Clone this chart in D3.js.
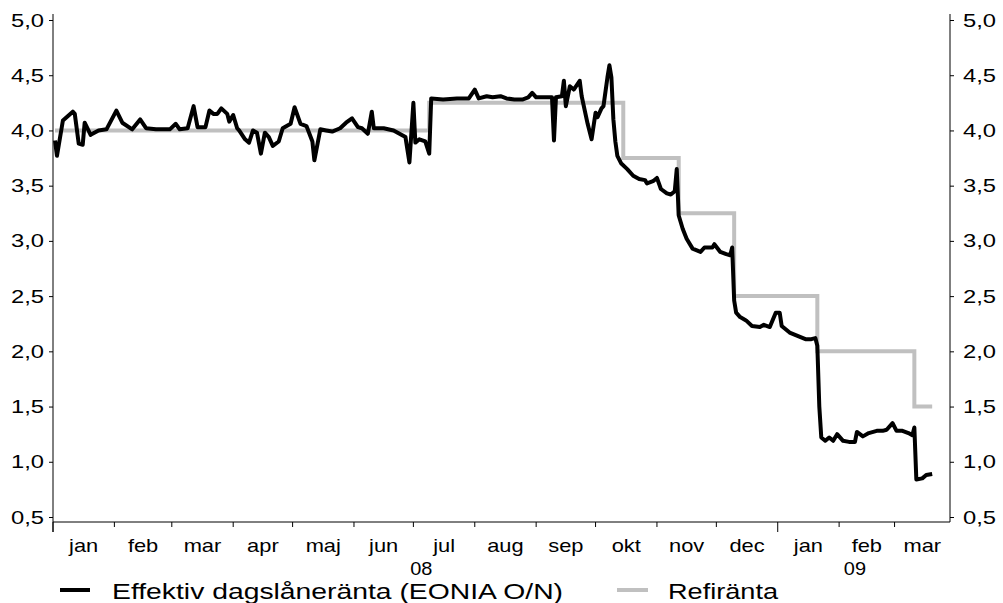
<!DOCTYPE html>
<html>
<head>
<meta charset="utf-8">
<script src="https://cdn.jsdelivr.net/npm/d3@7/dist/d3.min.js"></script>
<style>
  body { margin: 0; background: #fff; }
  text { font-family: "Liberation Sans", Arial, sans-serif; fill: #000; }
</style>
</head>
<body>
<svg id="chart" width="1003" height="603"></svg>
<script>
// EONIA overnight rate (effektiv dagslåneränta)
const eoniaDates = [
  "2008-01-02","2008-01-03","2008-01-06","2008-01-11","2008-01-12","2008-01-14","2008-01-16","2008-01-17","2008-01-20","2008-01-24",
  "2008-01-28","2008-02-02","2008-02-05","2008-02-10","2008-02-14","2008-02-17","2008-02-22","2008-02-29","2008-03-03","2008-03-05",
  "2008-03-09","2008-03-12","2008-03-14","2008-03-18","2008-03-20","2008-03-22","2008-03-24","2008-03-26","2008-03-29","2008-03-30",
  "2008-04-01","2008-04-03","2008-04-04","2008-04-07","2008-04-09","2008-04-11","2008-04-13","2008-04-15","2008-04-17","2008-04-19",
  "2008-04-21","2008-04-24","2008-04-26","2008-04-30","2008-05-02","2008-05-05","2008-05-08","2008-05-11","2008-05-12","2008-05-15",
  "2008-05-18","2008-05-21","2008-05-25","2008-05-28","2008-05-31","2008-06-03","2008-06-05","2008-06-08","2008-06-10","2008-06-11",
  "2008-06-16","2008-06-21","2008-06-24","2008-06-27","2008-06-29","2008-07-01","2008-07-02","2008-07-04","2008-07-07","2008-07-09",
  "2008-07-10","2008-07-16","2008-07-23","2008-07-29","2008-08-01","2008-08-03","2008-08-07","2008-08-10","2008-08-14","2008-08-17",
  "2008-08-21","2008-08-25","2008-08-28","2008-08-30","2008-09-01","2008-09-06","2008-09-09","2008-09-10","2008-09-11","2008-09-14",
  "2008-09-15","2008-09-16","2008-09-18","2008-09-20","2008-09-23","2008-09-24","2008-09-27","2008-09-29","2008-10-01","2008-10-02",
  "2008-10-04","2008-10-05","2008-10-07","2008-10-08","2008-10-09","2008-10-10","2008-10-11","2008-10-12","2008-10-14","2008-10-17",
  "2008-10-20","2008-10-23","2008-10-26","2008-10-27","2008-10-30","2008-11-01","2008-11-03","2008-11-06","2008-11-08","2008-11-10",
  "2008-11-11","2008-11-12","2008-11-14","2008-11-16","2008-11-19","2008-11-23","2008-11-25","2008-11-29","2008-11-30","2008-12-03",
  "2008-12-06","2008-12-08","2008-12-09","2008-12-10","2008-12-11","2008-12-13","2008-12-16","2008-12-19","2008-12-23","2008-12-25",
  "2008-12-28","2008-12-31","2009-01-02","2009-01-03","2009-01-07","2009-01-11","2009-01-15","2009-01-18","2009-01-20","2009-01-21",
  "2009-01-22","2009-01-23","2009-01-25","2009-01-27","2009-01-29","2009-01-31","2009-02-03","2009-02-06","2009-02-09","2009-02-10",
  "2009-02-13","2009-02-16","2009-02-20","2009-02-23","2009-02-25","2009-02-28","2009-03-02","2009-03-05","2009-03-08","2009-03-10",
  "2009-03-11","2009-03-12","2009-03-15","2009-03-17","2009-03-20"
];
const eoniaValues = [
  3.91,3.77,4.09,4.17,4.15,3.88,3.87,4.07,3.96,4.00,
  4.01,4.18,4.07,4.01,4.10,4.02,4.01,4.01,4.06,4.01,
  4.02,4.22,4.03,4.03,4.18,4.15,4.15,4.20,4.15,4.08,
  4.14,4.02,4.00,3.92,3.89,4.00,3.98,3.79,3.98,3.94,
  3.86,3.90,4.02,4.06,4.21,4.06,4.04,3.90,3.73,4.01,
  4.00,3.99,4.02,4.07,4.11,4.03,4.02,3.97,4.17,4.02,
  4.02,4.00,3.97,3.94,3.71,4.25,3.89,3.92,3.90,3.79,
  4.29,4.28,4.29,4.29,4.37,4.29,4.31,4.30,4.31,4.29,
  4.28,4.28,4.30,4.34,4.30,4.30,4.30,3.91,4.30,4.31,
  4.45,4.22,4.40,4.37,4.45,4.31,4.06,3.92,4.16,4.12,
  4.20,4.22,4.48,4.59,4.48,4.10,3.90,3.77,3.70,3.65,
  3.59,3.56,3.55,3.52,3.54,3.57,3.47,3.43,3.42,3.45,
  3.65,3.23,3.11,3.02,2.93,2.90,2.94,2.94,2.97,2.90,
  2.88,2.87,2.94,2.46,2.35,2.31,2.28,2.23,2.22,2.24,
  2.22,2.35,2.35,2.23,2.17,2.14,2.11,2.11,2.12,2.05,
  1.50,1.22,1.19,1.22,1.19,1.25,1.19,1.18,1.18,1.27,
  1.23,1.26,1.28,1.28,1.29,1.35,1.28,1.28,1.26,1.24,
  1.31,0.84,0.85,0.88,0.89
];
// Refiränta (ECB main refinancing rate), step changes
const refiDates  = ["2008-01-02","2008-07-09","2008-10-15","2008-11-12","2008-12-10","2009-01-21","2009-03-11","2009-03-20"];
const refiValues = [4.00, 4.25, 3.75, 3.25, 2.50, 2.00, 1.50, 1.50];

const yTicks = [0.5,1.0,1.5,2.0,2.5,3.0,3.5,4.0,4.5,5.0];
const monthLabels = ["jan","feb","mar","apr","maj","jun","jul","aug","sep","okt","nov","dec","jan","feb","mar"];
const yearLabels = ["08","09"];
const legendLabels = ["Effektiv dagslåneränta (EONIA O/N)","Refiränta"];

const parse = d3.timeParse("%Y-%m-%d");
const fmt = v => d3.format(".1f")(v).replace(".", ",");

const svg = d3.select("#chart");
const L = 53, R = 950, T = 20, B = 517, AX = 522;

const x = d3.scaleTime()
  .domain([parse("2008-01-01"), parse("2009-03-29")])
  .range([L, R]);
const y = d3.scaleLinear().domain([0.5, 5.0]).range([B, T]);

function stretch(sel, k) {
  sel.each(function () {
    const w = this.getComputedTextLength();
    d3.select(this).attr("textLength", w * k).attr("lengthAdjust", "spacingAndGlyphs");
  });
}

// y axes
const yLeft = d3.axisLeft(y).tickValues(yTicks).tickSize(4).tickPadding(5).tickFormat(fmt);
const yRight = d3.axisRight(y).tickValues(yTicks).tickSize(4).tickPadding(9).tickFormat(fmt);
const gl = svg.append("g").attr("transform", `translate(${L},0)`).call(yLeft);
const gr = svg.append("g").attr("transform", `translate(${R},0)`).call(yRight);
[gl, gr].forEach(g => {
  g.select(".domain").remove();
  g.selectAll(".tick line").attr("stroke", "#000");
  const t = g.selectAll(".tick text").style("font-size", "19px").attr("fill", "#000");
  stretch(t, 1.25);
});
svg.append("line").attr("x1", L).attr("x2", L).attr("y1", 14).attr("y2", AX + 10).attr("stroke", "#000");
svg.append("line").attr("x1", R).attr("x2", R).attr("y1", 14).attr("y2", AX).attr("stroke", "#000");

// x axis
const monthStarts = d3.timeMonth.range(parse("2008-01-01"), parse("2009-03-02"));
const gx = svg.append("g");
gx.append("line").attr("x1", L).attr("x2", R).attr("y1", AX).attr("y2", AX).attr("stroke", "#000");
gx.selectAll("line.mt").data(monthStarts).join("line")
  .attr("class", "mt")
  .attr("x1", d => x(d)).attr("x2", d => x(d))
  .attr("y1", AX)
  .attr("y2", d => d.getMonth() === 0 ? AX + 10 : AX + 5)
  .attr("stroke", "#000");
const ml = gx.selectAll("text.ml").data(monthStarts).join("text")
  .attr("class", "ml")
  .attr("x", (d, i) => {
    const end = i + 1 < monthStarts.length ? monthStarts[i + 1] : x.domain()[1];
    return (x(d) + x(end)) / 2;
  })
  .attr("y", 552)
  .attr("text-anchor", "middle")
  .style("font-size", "19px")
  .text((d, i) => monthLabels[i]);
stretch(ml, 1.15);
const yearPos = [parse("2008-07-05"), parse("2009-02-09")];
const yl = gx.selectAll("text.yl").data(yearLabels).join("text")
  .attr("class", "yl")
  .attr("x", (d, i) => x(yearPos[i]))
  .attr("y", 575)
  .attr("text-anchor", "middle")
  .style("font-size", "19px")
  .text(d => d);
stretch(yl, 1.05);

// lines
const refi = refiDates.map((d, i) => ({ date: parse(d), v: refiValues[i] }));
const eonia = eoniaDates.map((d, i) => ({ date: parse(d), v: eoniaValues[i] }));

svg.append("path").datum(refi)
  .attr("fill", "none").attr("stroke", "#c0c0c0").attr("stroke-width", 4)
  .attr("d", d3.line().x(d => x(d.date)).y(d => y(d.v)).curve(d3.curveStepAfter));
svg.append("path").datum(eonia)
  .attr("fill", "none").attr("stroke", "#000").attr("stroke-width", 4)
  .attr("stroke-linejoin", "round")
  .attr("d", d3.line().x(d => x(d.date)).y(d => y(d.v)));

// legend
const lg = svg.append("g");
const legendItems = [
  { x1: 60, x2: 90, tx: 112, len: 451, color: "#000" },
  { x1: 617, x2: 648, tx: 668, len: 110, color: "#c0c0c0" }
];
legendItems.forEach((it, i) => {
  lg.append("line").attr("x1", it.x1).attr("x2", it.x2).attr("y1", 590).attr("y2", 590)
    .attr("stroke", it.color).attr("stroke-width", 4);
  lg.append("text").attr("x", it.tx).attr("y", 599).style("font-size", "22px")
    .attr("textLength", it.len).attr("lengthAdjust", "spacingAndGlyphs")
    .text(legendLabels[i]);
});
</script>
</body>
</html>
